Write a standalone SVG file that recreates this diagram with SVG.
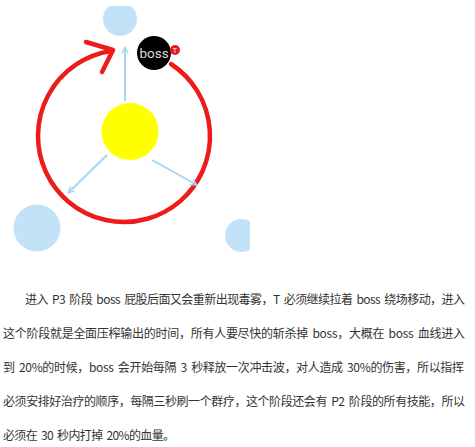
<svg xmlns="http://www.w3.org/2000/svg" width="475" height="447" viewBox="0 0 475 447">
<defs>
<style>
.blue{fill:#c2e2f7}
.link{stroke:#a9d5f0;stroke-width:2;fill:none}
.ring{stroke:#ee1b1b;fill:none;stroke-width:4.5;stroke-linecap:round;stroke-linejoin:round}
.para{font-family:"Noto Sans CJK SC","Liberation Sans",sans-serif;font-size:12px;fill:#333;word-spacing:2px}
</style>
<marker id="open" viewBox="0 0 12 12" refX="11" refY="6" markerWidth="8" markerHeight="8" orient="auto" markerUnits="userSpaceOnUse">
<path d="M1,1 L11,6 L1,11" fill="none" stroke="#a9d5f0" stroke-width="1.8"/>
</marker>
<clipPath id="pic"><rect x="0" y="6" width="250" height="260"/></clipPath>
</defs>
<rect width="475" height="447" fill="#fff"/>
<g clip-path="url(#pic)">
<g id="node-top"><circle class="blue" cx="120" cy="19" r="17"/></g>
<g id="node-left"><circle class="blue" cx="37" cy="228" r="23.5"/></g>
<g id="node-right"><circle class="blue" cx="241.5" cy="235.5" r="16.5"/></g>
</g>
<g id="connectors">
<path class="ring" d="M171,64 A86,86 0 1 1 111,51"/>
<polyline class="ring" points="86,42 113,50 102,72" stroke-width="5"/>
<line class="link" x1="125" y1="101" x2="125" y2="47" marker-end="url(#open)"/>
<line class="link" x1="107" y1="155" x2="68" y2="193" marker-end="url(#open)"/>
<line class="link" x1="152" y1="160" x2="197" y2="185" marker-end="url(#open)"/>
</g>
<g id="node-center"><circle cx="130" cy="131.5" r="28.5" fill="#ffff00"/></g>
<g id="node-boss">
<circle cx="154" cy="53" r="17" fill="#000"/>
<text x="154" y="58" text-anchor="middle" font-family="Roboto,'Liberation Sans',sans-serif" font-size="13.5" fill="#d8d8d8">boss</text>
</g>
<g id="node-t">
<circle cx="175" cy="50" r="5" fill="#e41a1a"/>
<text x="175" y="52.5" text-anchor="middle" font-family="'Liberation Sans',sans-serif" font-size="7" fill="#fff">T</text>
</g>
<g id="paragraph" class="para">
<text x="25" y="304" textLength="440" lengthAdjust="spacing">进入 P3 阶段 boss 屁股后面又会重新出现毒雾，T 必须继续拉着 boss 绕场移动，进入</text>
<text x="3" y="338" textLength="462" lengthAdjust="spacing">这个阶段就是全面压榨输出的时间，所有人要尽快的斩杀掉 boss，大概在 boss 血线进入</text>
<text x="3" y="372" textLength="461" lengthAdjust="spacing">到 20%的时候，boss 会开始每隔 3 秒释放一次冲击波，对人造成 30%的伤害，所以指挥</text>
<text x="3" y="406" textLength="462" lengthAdjust="spacing">必须安排好治疗的顺序，每隔三秒刷一个群疗，这个阶段还会有 P2 阶段的所有技能，所以</text>
<text x="3" y="440" textLength="172" lengthAdjust="spacing">必须在 30 秒内打掉 20%的血量。</text>
</g>
</svg>
